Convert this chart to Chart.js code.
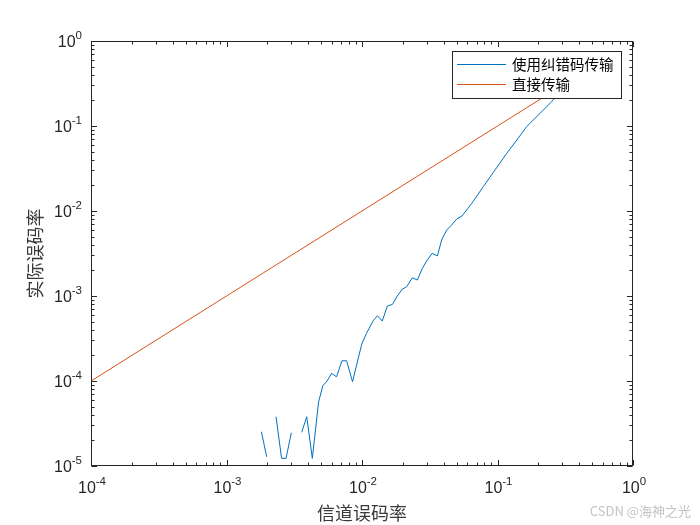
<!DOCTYPE html>
<html>
<head>
<meta charset="utf-8">
<script src="https://cdn.jsdelivr.net/npm/chart.js@4.4.0/dist/chart.umd.min.js"></script>
<style>
      html, body { margin: 0; background: #fff; }
</style>
</head>
<body>
<canvas id="grafico" width="700" height="525"></canvas>
<script>
// channel error rate (x) and measured error rate with coding (y), null = zero errors
const canalBer = [1.81e-3, 1.98e-3, 2.17e-3, 2.32e-3, 2.55e-3, 2.75e-3, 3.01e-3, 3.29e-3, 3.59e-3, 3.91e-3,
      4.30e-3, 4.78e-3, 5.13e-3, 5.52e-3, 5.97e-3, 6.49e-3, 7.11e-3, 7.70e-3, 8.51e-3, 9.96e-3,
      1.08e-2, 1.21e-2, 1.30e-2, 1.41e-2, 1.54e-2, 1.68e-2, 1.82e-2, 1.98e-2, 2.14e-2, 2.35e-2,
      2.56e-2, 2.79e-2, 3.03e-2, 3.30e-2, 3.60e-2, 3.87e-2, 4.22e-2, 4.59e-2, 5.00e-2, 5.47e-2,
      5.93e-2, 6.46e-2, 7.85e-2, 9.59e-2, 0.117, 0.139, 0.164, 0.206, 0.251, 0.373];
const codificadoBer = [2.53e-5, 1.28e-5, null, 3.80e-5, 1.23e-5, 1.23e-5, 2.46e-5, null, 2.49e-5, 3.80e-5,
      1.23e-5, 5.66e-5, 8.73e-5, 1.0e-4, 1.23e-4, 1.12e-4, 1.73e-4, 1.73e-4, 9.8e-5, 2.72e-4,
      3.64e-4, 5.12e-4, 5.86e-4, 5.08e-4, 7.63e-4, 7.98e-4, 1.0e-3, 1.20e-3, 1.29e-3, 1.64e-3,
      1.54e-3, 2.12e-3, 2.65e-3, 3.18e-3, 2.96e-3, 4.56e-3, 5.98e-3, 6.85e-3, 8.05e-3, 8.73e-3,
      1.03e-2, 1.23e-2, 1.93e-2, 3.04e-2, 4.77e-2, 6.85e-2, 9.82e-2, 0.141, 0.193, 0.42];
// direct transmission
const diretoX = [1e-4, 1e-3, 1e-2, 1e-1, 0.5];
const diretoY = [1e-4, 1e-3, 1e-2, 1e-1, 0.5];

const legendas = ['使用纠错码传输', '直接传输'];
const xTitulo = '信道误码率';
const yTitulo = '实际误码率';
const xTicks = [1e-4, 1e-3, 1e-2, 1e-1, 1];
const yTicks = [1e-5, 1e-4, 1e-3, 1e-2, 1e-1, 1];

const corEixo = '#262626';
const fonteNum = '"Liberation Sans", Arial, sans-serif';
const fonteCjk = '"Noto Sans CJK SC", sans-serif';

// 10 with a raised exponent, MATLAB style
function potencia(ctx, valor, px, py, alinhar) {
      const exp = String(Math.round(Math.log10(valor)));
      ctx.font = '16px ' + fonteNum;
      const wBase = ctx.measureText('10').width;
      ctx.font = '11.5px ' + fonteNum;
      const wExp = ctx.measureText(exp).width;
      const total = wBase + wExp;
      const x0 = alinhar === 'right' ? px - total : px - total / 2;
      ctx.textAlign = 'left';
      ctx.textBaseline = 'middle';
      ctx.font = '16px ' + fonteNum;
      ctx.fillText('10', x0, py);
      ctx.font = '11.5px ' + fonteNum;
      ctx.fillText(exp, x0 + wBase, py - 7);
}

const eixosMatlab = {
      id: 'eixosMatlab',
      afterDraw(chart) {
            const { ctx, chartArea: a, scales: { x, y } } = chart;
            ctx.save();
            ctx.strokeStyle = corEixo;
            ctx.fillStyle = corEixo;
            ctx.lineWidth = 1;

            const L = Math.round(a.left) + 0.5, R = Math.round(a.right) - 0.5;
            const T = Math.round(a.top) + 0.5, B = Math.round(a.bottom) - 0.5;
            ctx.strokeRect(L, T, R - L, B - T);

            ctx.beginPath();
            xTicks.forEach((v, i) => {
                  const marcas = [[v, 5.5]];
                  if (i < xTicks.length - 1) for (let m = 2; m <= 9; m++) marcas.push([v * m, 3]);
                  marcas.forEach(([val, len]) => {
                        const p = Math.round(x.getPixelForValue(val)) + 0.5;
                        ctx.moveTo(p, B); ctx.lineTo(p, B - len);
                        ctx.moveTo(p, T); ctx.lineTo(p, T + len);
                  });
            });
            yTicks.forEach((v, i) => {
                  const marcas = [[v, 5.5]];
                  if (i < yTicks.length - 1) for (let m = 2; m <= 9; m++) marcas.push([v * m, 3]);
                  marcas.forEach(([val, len]) => {
                        const p = Math.round(y.getPixelForValue(val)) + 0.5;
                        ctx.moveTo(L, p); ctx.lineTo(L + len, p);
                        ctx.moveTo(R, p); ctx.lineTo(R - len, p);
                  });
            });
            ctx.stroke();

            xTicks.forEach(v => potencia(ctx, v, x.getPixelForValue(v) + 1, a.bottom + 23, 'center'));
            yTicks.forEach(v => potencia(ctx, v, a.left - 9, y.getPixelForValue(v) + 2, 'right'));

            ctx.fillStyle = '#3a3a3a';
            ctx.font = '18px ' + fonteCjk;
            ctx.textAlign = 'center';
            ctx.textBaseline = 'middle';
            ctx.fillText(xTitulo, (a.left + a.right) / 2, 513);
            ctx.save();
            ctx.translate(35, (a.top + a.bottom) / 2);
            ctx.rotate(-Math.PI / 2);
            ctx.fillText(yTitulo, 0, 0);
            ctx.restore();

            // legend box inside the axes
            const lx = 452.5, ly = 51.5, lw = 169, lh = 47;
            ctx.fillStyle = '#fff';
            ctx.fillRect(lx, ly, lw, lh);
            ctx.strokeStyle = corEixo;
            ctx.strokeRect(lx, ly, lw, lh);
            chart.data.datasets.forEach((ds, i) => {
                  const yy = 64.5 + i * 20;
                  ctx.strokeStyle = ds.borderColor;
                  ctx.beginPath();
                  ctx.moveTo(457, yy); ctx.lineTo(506, yy);
                  ctx.stroke();
                  ctx.fillStyle = '#000';
                  ctx.font = '14.5px ' + fonteCjk;
                  ctx.textAlign = 'left';
                  ctx.fillText(ds.label, 512, yy);
            });

            ctx.fillStyle = '#c4c4c4';
            ctx.font = '13px ' + fonteCjk;
            ctx.textAlign = 'right';
            ctx.fillText('CSDN @海神之光', 691, 511);
            ctx.restore();
      }
};

const ctx = document.getElementById('grafico').getContext('2d');

const grafico = new Chart(ctx, {
      type: 'line',
      data: {
            datasets: [{
                  label: legendas[0],
                  data: canalBer.map((v, i) => ({ x: v, y: codificadoBer[i] })),
                  borderColor: '#0072BD',
                  borderWidth: 1,
                  pointRadius: 0,
                  spanGaps: false,
                  tension: 0
            }, {
                  label: legendas[1],
                  data: diretoX.map((v, i) => ({ x: v, y: diretoY[i] })),
                  borderColor: '#D95319',
                  borderWidth: 1,
                  pointRadius: 0,
                  tension: 0
            }]
      },
      options: {
            responsive: false,
            animation: false,
            devicePixelRatio: 1,
            layout: { padding: { left: 91, top: 41, right: 67, bottom: 59 } },
            plugins: { legend: { display: false }, tooltip: { enabled: false } },
            scales: {
                  x: { type: 'logarithmic', min: 1e-4, max: 1, display: false },
                  y: { type: 'logarithmic', min: 1e-5, max: 1, display: false }
            }
      },
      plugins: [eixosMatlab]
});
</script>
</body>
</html>
